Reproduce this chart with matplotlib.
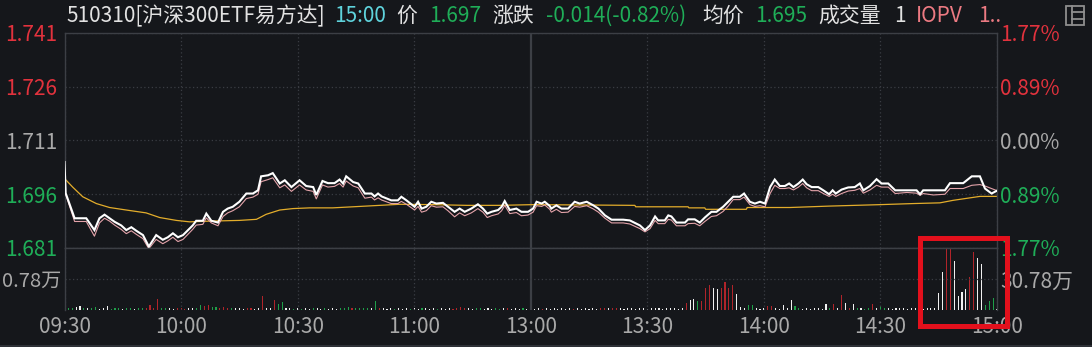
import matplotlib
matplotlib.use('Agg')
import matplotlib.pyplot as plt
from matplotlib.patches import Rectangle
from matplotlib.lines import Line2D

plt.rcParams['font.family'] = ['Noto Sans CJK SC', 'DejaVu Sans']

# ---- data ----
# minutes since 09:30 (afternoon continues after 120 = 11:30/13:00)
minutes = [0, 0.3, 2.6, 5.6, 7.7, 9.0, 10.3, 11.6, 12.9, 14.6, 15.9, 17.2, 18.5, 20.2, 21.7,
           23.6, 25.3, 26.6, 27.9, 29.2, 30.5, 33.0, 33.9, 35.6, 36.5, 37.8, 39.5, 40.8, 42.0,
           43.3, 45.0, 46.8, 48.5, 49.8, 50.6, 52.4, 53.6, 55.4, 56.7, 58.4, 60.5, 62.2, 64.0,
           64.8, 66.4, 67.8, 69.5, 70.8, 71.7, 72.5, 74.3, 75.6, 77.3, 79.0, 79.8, 80.7, 81.6,
           84.1, 85.8, 86.7, 88.0, 90.1, 91.0, 91.9, 93.1, 94.4, 95.7, 97.4, 98.7, 100.4, 101.7,
           103.0, 104.7, 106.4, 107.7, 108.8, 109.9, 111.6, 112.5, 113.3, 114.6, 116.3, 117.6,
           119.3, 120.6, 121.5, 122.8, 123.6, 124.9, 125.3, 126.6, 127.9, 129.6, 131.3, 132.6,
           134.4, 136.1, 137.4, 139.1, 140.8, 143.8, 145.5, 148.1, 149.4, 150.7, 152.0, 152.8,
           154.5, 155.4, 156.2, 157.5, 159.7, 160.5, 162.2, 163.5, 164.8, 166.5, 167.8, 169.5,
           170.8, 172.1, 173.8, 174.9, 176.4, 177.7, 179.0, 180.3, 181.6, 182.8, 184.1, 185.4,
           186.5, 187.6, 188.9, 190.0, 191.0, 192.3, 194.0, 195.3, 196.8, 197.7, 198.5, 200.0,
           201.7, 203.4, 204.7, 205.6, 207.3, 209.0, 210.3, 212.0, 213.8, 216.8, 219.3, 220.2,
           221.0, 223.6, 226.6, 227.9, 231.3, 233.5, 235.6, 236.9, 238.6, 240]

price = [1.7050, 1.6963, 1.6893, 1.6893, 1.6860, 1.6893, 1.6903, 1.6893, 1.6883, 1.6873, 1.6860,
         1.6868, 1.6858, 1.6846, 1.6814, 1.6846, 1.6833, 1.6840, 1.6851, 1.6840, 1.6846, 1.6873,
         1.6886, 1.6886, 1.6906, 1.6886, 1.6881, 1.6911, 1.6920, 1.6925, 1.6939, 1.6962, 1.6962,
         1.6971, 1.7010, 1.7013, 1.7019, 1.6990, 1.6999, 1.6980, 1.6999, 1.6983, 1.6980, 1.6958,
         1.6997, 1.6991, 1.6991, 1.7001, 1.6990, 1.7010, 1.6994, 1.6990, 1.6962, 1.6962, 1.6954,
         1.6962, 1.6954, 1.6943, 1.6943, 1.6953, 1.6943, 1.6925, 1.6939, 1.6920, 1.6925, 1.6939,
         1.6934, 1.6936, 1.6925, 1.6911, 1.6920, 1.6911, 1.6920, 1.6932, 1.6920, 1.6906, 1.6911,
         1.6916, 1.6925, 1.6941, 1.6916, 1.6920, 1.6911, 1.6911, 1.6920, 1.6939, 1.6934, 1.6939,
         1.6927, 1.6920, 1.6929, 1.6920, 1.6920, 1.6939, 1.6934, 1.6939, 1.6929, 1.6920, 1.6901,
         1.6889, 1.6889, 1.6887, 1.6873, 1.6860, 1.6873, 1.6898, 1.6887, 1.6887, 1.6901, 1.6898,
         1.6881, 1.6881, 1.6890, 1.6890, 1.6881, 1.6895, 1.6911, 1.6911, 1.6925, 1.6939, 1.6953,
         1.6953, 1.6962, 1.6939, 1.6934, 1.6939, 1.6934, 1.6980, 1.7001, 1.6983, 1.6983, 1.6990,
         1.6980, 1.6990, 1.7001, 1.6988, 1.6980, 1.6980, 1.6971, 1.6960, 1.6971, 1.6962, 1.6973,
         1.6979, 1.6980, 1.6990, 1.6971, 1.6983, 1.7002, 1.6990, 1.6990, 1.6971, 1.6971, 1.6971,
         1.6960, 1.6971, 1.6971, 1.6971, 1.6991, 1.6991, 1.7010, 1.7010, 1.6976, 1.6962, 1.6970]

iopv = [1.6963, 1.6960, 1.6884, 1.6884, 1.6843, 1.6880, 1.6893, 1.6885, 1.6874, 1.6862, 1.6850,
        1.6858, 1.6848, 1.6836, 1.6808, 1.6834, 1.6822, 1.6830, 1.6840, 1.6828, 1.6834, 1.6862,
        1.6874, 1.6876, 1.6894, 1.6880, 1.6872, 1.6898, 1.6908, 1.6914, 1.6925, 1.6948, 1.6952,
        1.6960, 1.6995, 1.7001, 1.7006, 1.6978, 1.6986, 1.6968, 1.6986, 1.6972, 1.6968, 1.6947,
        1.6986, 1.6980, 1.6982, 1.6990, 1.6980, 1.6997, 1.6983, 1.6978, 1.6949, 1.6952, 1.6944,
        1.6950, 1.6944, 1.6934, 1.6934, 1.6940, 1.6932, 1.6916, 1.6926, 1.6910, 1.6914, 1.6928,
        1.6924, 1.6925, 1.6914, 1.6897, 1.6908, 1.6900, 1.6908, 1.6920, 1.6910, 1.6895, 1.6900,
        1.6905, 1.6914, 1.6929, 1.6906, 1.6909, 1.6900, 1.6902, 1.6910, 1.6928, 1.6926, 1.6930,
        1.6918, 1.6910, 1.6918, 1.6909, 1.6910, 1.6926, 1.6924, 1.6928, 1.6919, 1.6910, 1.6893,
        1.6880, 1.6880, 1.6877, 1.6864, 1.6855, 1.6864, 1.6887, 1.6878, 1.6878, 1.6890, 1.6888,
        1.6872, 1.6872, 1.6878, 1.6879, 1.6872, 1.6884, 1.6898, 1.6900, 1.6912, 1.6927, 1.6945,
        1.6945, 1.6952, 1.6931, 1.6926, 1.6928, 1.6925, 1.6962, 1.6985, 1.6976, 1.6976, 1.6978,
        1.6972, 1.6980, 1.6990, 1.6978, 1.6970, 1.6970, 1.6962, 1.6954, 1.6960, 1.6954, 1.6962,
        1.6969, 1.6971, 1.6976, 1.6963, 1.6972, 1.6985, 1.6980, 1.6980, 1.6962, 1.6965, 1.6963,
        1.6957, 1.6962, 1.6958, 1.6960, 1.6976, 1.6976, 1.6985, 1.6987, 1.6983, 1.6976, 1.6970]

avg_minutes = [0, 2.1, 4.7, 8.2, 11.6, 15.9, 21.0, 24.5, 28.8, 32.2, 37.3, 45.0, 49.4, 51.9, 55.4,
               58.8, 63.1, 69.0, 77.7, 86.3, 94.8, 103.5, 112.0, 120.5, 146.8, 147.0, 160.5,
               160.7, 164.8, 165.0, 175.5, 175.7, 186.7, 197.0, 209.9, 218.4, 225.3, 228.7,
               235.6, 240]
avg_price = [1.7004, 1.6980, 1.6953, 1.6934, 1.6923, 1.6916, 1.6908, 1.6895, 1.6887, 1.6883,
             1.6885, 1.6887, 1.6890, 1.6904, 1.6916, 1.6920, 1.6922, 1.6922, 1.6927, 1.6932,
             1.6931, 1.6929, 1.6929, 1.6931, 1.6929, 1.6925, 1.6925, 1.6922, 1.6922, 1.6918,
             1.6918, 1.6923, 1.6923, 1.6927, 1.6931, 1.6934, 1.6936, 1.6943, 1.6954, 1.6954]

# volume per minute, in 万; colour per minute: r up, g down, w flat
volume = [0.45, 0.06, 0.05, 0.07, 0.11, 0.04, 0.05, 0.06, 0.08, 0.03,
          0.04, 0.11, 0.03, 0.04, 0.05, 0.03, 0.04, 0.05, 0.03, 0.04,
          0.05, 0.04, 0.13, 0.06, 0.28, 0.05, 0.04, 0.06, 0.03, 0.05,
          0.04, 0.03, 0.05, 0.04, 0.06, 0.13, 0.10, 0.13, 0.08, 0.07,
          0.05, 0.07, 0.06, 0.04, 0.05, 0.04, 0.03, 0.05, 0.04, 0.03,
          0.05, 0.36, 0.04, 0.05, 0.24, 0.15, 0.19, 0.05, 0.04, 0.03,
          0.04, 0.03, 0.04, 0.03, 0.04, 0.04, 0.03, 0.04, 0.03, 0.04,
          0.03, 0.04, 0.05, 0.07, 0.04, 0.05, 0.04, 0.05, 0.06, 0.05,
          0.22, 0.05, 0.04, 0.03, 0.04, 0.03, 0.04, 0.03, 0.04, 0.03,
          0.04, 0.03, 0.04, 0.05, 0.03, 0.04, 0.03, 0.04, 0.03, 0.04,
          0.03, 0.05, 0.07, 0.05, 0.04, 0.03, 0.04, 0.05, 0.03, 0.04,
          0.03, 0.04, 0.03, 0.04, 0.05, 0.03, 0.04, 0.03, 0.04, 0.03, 0.04,
          0.03, 0.04, 0.03, 0.04, 0.03, 0.04, 0.03, 0.05, 0.03,
          0.04, 0.03, 0.04, 0.03, 0.05, 0.03, 0.04, 0.03, 0.04, 0.05,
          0.04, 0.05, 0.06, 0.04, 0.03, 0.04, 0.05, 0.03, 0.06, 0.04,
          0.03, 0.04, 0.05, 0.04, 0.03, 0.04, 0.05, 0.04, 0.03, 0.04,
          0.17, 0.25, 0.28, 0.23, 0.23, 0.55, 0.63, 0.55, 0.52, 0.55,
          0.71, 0.55, 0.63, 0.40, 0.07, 0.04, 0.13, 0.13, 0.04, 0.03,
          0.04, 0.10, 0.10, 0.04, 0.03, 0.13, 0.04, 0.25, 0.10, 0.04,
          0.03, 0.04, 0.03, 0.05, 0.04, 0.03, 0.14, 0.04, 0.15, 0.05,
          0.38, 0.18, 0.04, 0.14, 0.06, 0.04, 0.03, 0.05, 0.14, 0.04,
          0.10, 0.05, 0.04, 0.03, 0.04, 0.05, 0.04, 0.03, 0.04, 0.05,
          0.04, 0.03, 0.04, 0.05, 0.04, 0.42, 0.96, 1.55, 1.53, 1.23,
          0.35, 0.46, 0.53, 0.84, 1.45, 1.32, 1.17, 0.13, 0.23, 0.31, 0.02]
vol_colors = ("gggwwgwggw" "wwgggwggwg" "grrrrggwwr" "rrwwggrrgg" "rrrgwwwrrw"
              "wrwwrggwwg" "wgwwgwwgww" "wgggrggggw" "grwwwgwwwg"
              "wwgwwwgwww" "rrrrwwggww" "wggwrwwwgww"
              "wwrwwwwww" "wrwwwwwwrr" "wrrwwwwwww" "wwwwwwwwww"
              "rwwgrrrwwr" "rrrwwwggww" "wrrwwwwwgg" "wwwwwwwgrw"
              "rwrwgwggrw" "ggwwwwwwww" "wwwwwwwrrw" "wwwrrwwgggw")

price_ticks = [1.681, 1.696, 1.711, 1.726, 1.741]
price_labels = ['1.681', '1.696', '1.711', '1.726', '1.741']
pct_labels = ['1.77%', '0.89%', '0.00%', '0.89%', '1.77%']
tick_colors = ['green', 'green', 'gray', 'red', 'red']
time_ticks = [0, 30, 60, 90, 120, 150, 180, 210, 240]
time_labels = ['09:30', '10:00', '10:30', '11:00', '13:00', '13:30', '14:00', '14:30', '15:00']

# ---- style ----
BG = '#15171b'
GRID = '#3a3d43'
RED = '#e2323d'
GREEN = '#1fae58'
GRAY = '#a9a9a9'
PALETTE = {'red': RED, 'green': GREEN, 'gray': GRAY}
BAR = {'r': '#b0242a', 'g': '#1f9e49', 'w': '#f0f0f0'}
FS = 15

W, H = 1092, 347
fig = plt.figure(figsize=(W / 100, H / 100), dpi=100, facecolor=BG)
L, R = 64.5 / W, 997 / W
ax = fig.add_axes([L, 1 - 248 / H, R - L, (248 - 33) / H])
axv = fig.add_axes([L, 1 - 310 / H, R - L, (310 - 248) / H])

for a in (ax, axv):
    a.set_facecolor(BG)
    a.set_xlim(0, 240)
    a.set_xticks(time_ticks)
    a.grid(True, axis='x', color=GRID, linestyle=(0, (1, 2)), linewidth=0.9)
    for s in a.spines.values():
        s.set_color('#3c3f45')
        s.set_linewidth(1.0)
    a.get_xgridlines()[4].set_linestyle('-')
    a.get_xgridlines()[4].set_color('#3c3f45')
    a.get_xgridlines()[4].set_linewidth(1.6)
axv.spines['bottom'].set_visible(False)

# price panel
ax.plot(avg_minutes, avg_price, color='#e3ad2b', lw=0.9, zorder=2)
ax.plot(minutes, iopv, color='#e4a3aa', lw=0.8, zorder=3)
ax.plot(minutes, price, color='white', lw=1.5, zorder=4, solid_joinstyle='miter')
ax.set_ylim(price_ticks[0], price_ticks[-1])
ax.set_yticks(price_ticks)
ax.set_yticklabels(price_labels)
ax.grid(True, axis='y', color=GRID, linestyle=(0, (1, 2)), linewidth=0.9)
ax.tick_params(axis='x', length=0, labelbottom=False)
ax.tick_params(axis='y', length=0, pad=5, labelsize=FS)
for lab, c in zip(ax.get_yticklabels(), tick_colors):
    lab.set_color(PALETTE[c])

ax2 = ax.twinx()
ax2.set_ylim(price_ticks[0], price_ticks[-1])
ax2.set_yticks(price_ticks)
ax2.set_yticklabels(pct_labels)
ax2.tick_params(axis='y', length=0, pad=2.5, labelsize=FS)
for lab, c in zip(ax2.get_yticklabels(), tick_colors):
    lab.set_color(PALETTE[c])
for s in ax2.spines.values():
    s.set_visible(False)

# volume panel
axv.bar(range(len(volume)), volume, width=0.28, linewidth=0, antialiased=False,
        color=[BAR[c] for c in vol_colors])
axv.set_ylim(0, 1.56)
axv.set_yticks([0.78])
axv.set_yticklabels(['0.78万'])
axv.grid(True, axis='y', color=GRID, linestyle=(0, (1, 2)), linewidth=0.9)
axv.set_xticklabels(time_labels)
axv.tick_params(axis='x', length=0, pad=4, labelsize=FS, labelcolor=GRAY)
axv.tick_params(axis='y', length=0, pad=2, labelsize=14.5, labelcolor=GRAY)
axv2 = axv.twinx()
axv2.set_ylim(0, 1.56)
axv2.set_yticks([0.78])
axv2.set_yticklabels(['30.78万'])
axv2.tick_params(axis='y', length=0, pad=2.5, labelsize=FS, labelcolor=GRAY)
for s in axv2.spines.values():
    s.set_visible(False)

# header line
header = [('510310[沪深300ETF易方达]', 66, '#e2e2e2'), ('15:00', 334, '#5fd3dc'),
          ('价', 396, '#e2e2e2'), ('1.697', 429, GREEN), ('涨跌', 492, '#e2e2e2'),
          ('-0.014(-0.82%)', 546, GREEN), ('均价', 702, '#e2e2e2'), ('1.695', 755, GREEN),
          ('成交量', 818, '#e2e2e2'), ('1', 894, '#e2e2e2'), ('IOPV', 916, '#ec7a82'),
          ('1..', 978, '#ec7a82')]
for txt, xp, col in header:
    fig.text(xp / W, 1 - 16 / H, txt, color=col, fontsize=FS, ha='left', va='center')

# layout icon top right
ic = '#8e8e8e'
fig.add_artist(Rectangle((1066 / W, 1 - 25 / H), 18 / W, 19 / H, transform=fig.transFigure,
                         fill=False, edgecolor=ic, lw=1.3))
fig.add_artist(Line2D([1072 / W, 1072 / W], [1 - 25 / H, 1 - 6 / H], transform=fig.transFigure,
                      color=ic, lw=1.3))
for yy in (12, 19):
    fig.add_artist(Line2D([1072 / W, 1084 / W], [1 - yy / H, 1 - yy / H],
                          transform=fig.transFigure, color=ic, lw=1.3))

# bottom strip
fig.add_artist(Line2D([0, 1], [1 - 345.5 / H, 1 - 345.5 / H], transform=fig.transFigure,
                      color='#2d3036', lw=2.2))

# red highlight box
fig.add_artist(Rectangle((919.5 / W, 1 - 325.5 / H), 87 / W, 88 / H, transform=fig.transFigure,
                         fill=False, edgecolor='#e3101c', lw=3.6, zorder=10))

fig.savefig('out.png', dpi=100, facecolor=BG)
